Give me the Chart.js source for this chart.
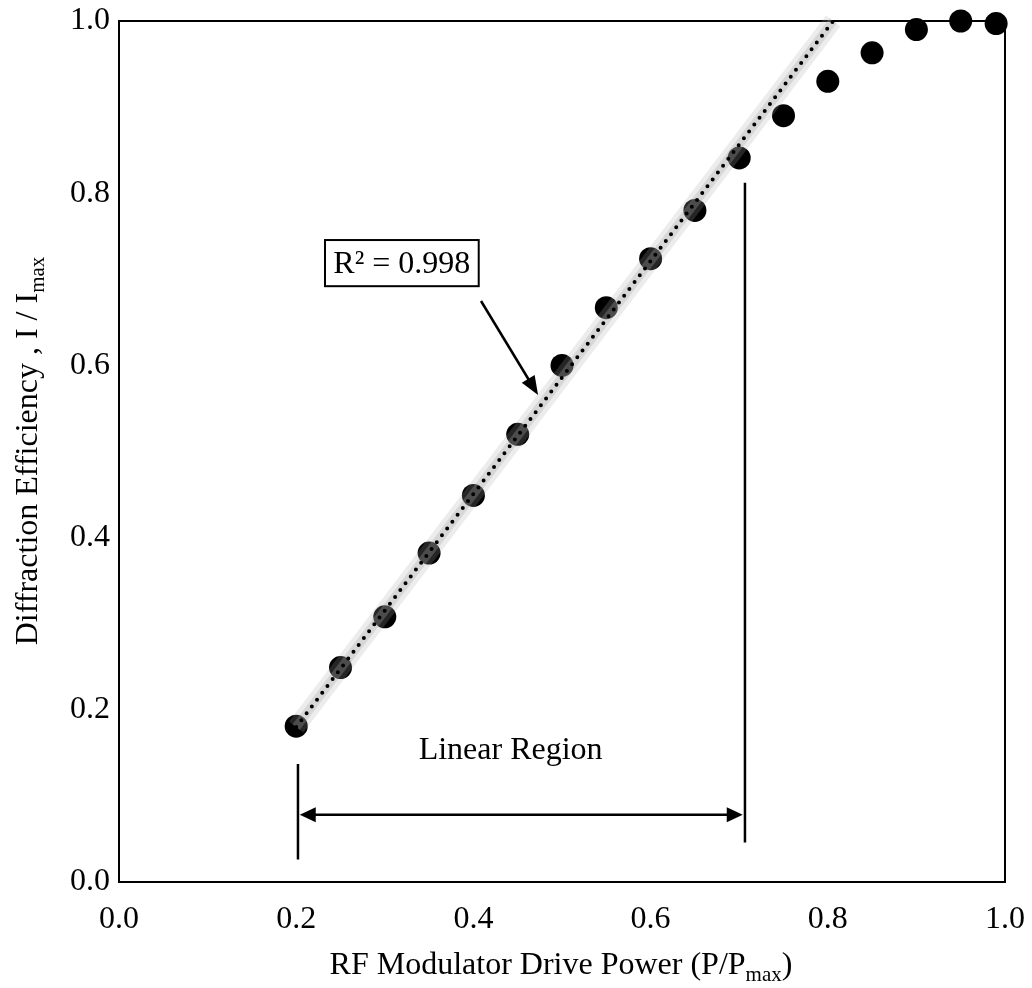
<!DOCTYPE html>
<html>
<head>
<meta charset="utf-8">
<script src="https://cdn.jsdelivr.net/npm/chart.js@4"></script>
<style>
  body { margin: 0; background: #fff; }
  canvas { display: block; }
</style>
</head>
<body>
<canvas id="graph_de" width="1032" height="988"></canvas>
<script>
// measured points
var drivePower = [0.2, 0.25, 0.3, 0.35, 0.4, 0.45, 0.5, 0.55, 0.6, 0.65, 0.7, 0.75, 0.8, 0.85, 0.9, 0.95, 0.99];
var efficiency = [0.181, 0.249, 0.308, 0.382, 0.449, 0.520, 0.600, 0.667, 0.724, 0.780, 0.841, 0.890, 0.930, 0.963, 0.990, 1.000, 0.997];
// linear trend line end points
var trendX = [0.2, 0.806];
var trendY = [0.18, 1.0];
var xTicks = [0.0, 0.2, 0.4, 0.6, 0.8, 1.0];
var yTicks = [0.0, 0.2, 0.4, 0.6, 0.8, 1.0];
var fitLabel = 'R² = 0.998';
var regionLabel = 'Linear Region';

var FONT = '"Liberation Serif", "Times New Roman", serif';

function pairs(xs, ys) {
    return xs.map(function (x, i) { return { x: x, y: ys[i] }; });
}

function arrowHead(c, x1, y1, x2, y2, len, wid) {
    var a = Math.atan2(y2 - y1, x2 - x1);
    c.beginPath();
    c.moveTo(x2, y2);
    c.lineTo(x2 - len * Math.cos(a) + wid / 2 * Math.sin(a), y2 - len * Math.sin(a) - wid / 2 * Math.cos(a));
    c.lineTo(x2 - len * Math.cos(a) - wid / 2 * Math.sin(a), y2 - len * Math.sin(a) + wid / 2 * Math.cos(a));
    c.closePath();
    c.fill();
}

// text with a subscript part, e.g. I / I_max
function subText(c, parts, x, y, align) {
    c.textBaseline = 'alphabetic';
    c.textAlign = 'left';
    var big = '32px ' + FONT, small = '21px ' + FONT;
    var w = 0;
    parts.forEach(function (p) { c.font = p.sub ? small : big; w += c.measureText(p.t).width; });
    var cx = align === 'center' ? x - w / 2 : x;
    parts.forEach(function (p) {
        c.font = p.sub ? small : big;
        c.fillText(p.t, cx, y + (p.sub ? 7 : 0));
        cx += c.measureText(p.t).width;
    });
}

// no extra room for overhanging tick labels, layout padding decides
function noPad(scale) {
    scale.paddingLeft = 0;
    scale.paddingRight = 0;
    scale.paddingTop = 0;
    scale.paddingBottom = 0;
}

var frame = {
    id: 'frame',
    beforeDatasetsDraw: function (chart) {
        var a = chart.chartArea, c = chart.ctx;
        c.save();
        c.strokeStyle = '#000';
        c.lineWidth = 2;
        c.strokeRect(a.left, a.top, a.right - a.left, a.bottom - a.top);
        c.restore();
    }
};

var notes = {
    id: 'notes',
    afterDatasetsDraw: function (chart) {
        var c = chart.ctx, sx = chart.scales.x, sy = chart.scales.y;
        var X = function (v) { return sx.getPixelForValue(v); };
        var Y = function (v) { return sy.getPixelForValue(v); };
        c.save();
        c.strokeStyle = '#000';
        c.fillStyle = '#000';
        c.lineWidth = 2.5;
        // region markers
        c.beginPath();
        c.moveTo(X(0.202), Y(0.026)); c.lineTo(X(0.202), Y(0.137));
        c.moveTo(X(0.7065), Y(0.046)); c.lineTo(X(0.7065), Y(0.812));
        c.stroke();
        // double arrow
        var ay = Y(0.078), ax1 = X(0.204), ax2 = X(0.704);
        c.beginPath();
        c.moveTo(ax1 + 10, ay); c.lineTo(ax2 - 10, ay);
        c.stroke();
        arrowHead(c, ax2, ay, ax1, ay, 16, 15);
        arrowHead(c, ax1, ay, ax2, ay, 16, 15);
        // R² box
        var bl = X(0.2325), br = X(0.406), bt = Y(0.7456), bb = Y(0.692);
        c.lineWidth = 2;
        c.strokeRect(bl, bt, br - bl, bb - bt);
        c.font = '32px ' + FONT;
        c.textAlign = 'center';
        c.textBaseline = 'middle';
        c.fillText(fitLabel, (bl + br) / 2, (bt + bb) / 2 + 1);
        // pointer arrow
        var p1x = X(0.4086), p1y = Y(0.6748), p2x = X(0.473), p2y = Y(0.5656);
        c.lineWidth = 2.5;
        c.beginPath();
        c.moveTo(p1x, p1y);
        c.lineTo(p2x - (p2x - p1x) * 0.12, p2y - (p2y - p1y) * 0.12);
        c.stroke();
        arrowHead(c, p1x, p1y, p2x, p2y, 19, 15);
        c.fillText(regionLabel, X(0.442), Y(0.153));
        c.restore();
    },
    afterDraw: function (chart) {
        var c = chart.ctx;
        c.save();
        c.fillStyle = '#000';
        subText(c, [{ t: 'RF Modulator Drive Power (P/P' }, { t: 'max', sub: true }, { t: ')' }], 561, 974, 'center');
        c.translate(37, 451);
        c.rotate(-Math.PI / 2);
        subText(c, [{ t: 'Diffraction Efficiency , I / I' }, { t: 'max', sub: true }], 0, 0, 'center');
        c.restore();
    }
};

var ctx = document.getElementById('graph_de');

var myChart_de = new Chart(ctx, {
    type: 'scatter',
    data: {
        datasets: [{
            // dotted trend line
            data: pairs(trendX, trendY),
            showLine: true,
            borderColor: '#000',
            borderWidth: 4,
            borderDash: [0, 8.6],
            borderCapStyle: 'round',
            pointRadius: 0,
            clip: false,
            order: 1
        }, {
            // soft gray glow under the dots
            data: pairs(trendX, trendY),
            showLine: true,
            borderColor: 'rgba(170,170,170,0.22)',
            borderWidth: 18,
            pointRadius: 0,
            clip: false,
            order: 2
        }, {
            data: pairs(trendX, trendY),
            showLine: true,
            borderColor: 'rgba(170,170,170,0.30)',
            borderWidth: 9,
            pointRadius: 0,
            clip: false,
            order: 2
        }, {
            data: pairs(drivePower, efficiency),
            pointRadius: 11.5,
            pointHoverRadius: 11.5,
            pointBackgroundColor: '#000',
            pointBorderWidth: 0,
            clip: false,
            order: 3
        }]
    },
    plugins: [frame, notes],
    options: {
        responsive: false,
        animation: false,
        events: [],
        layout: {
            padding: { left: 0, right: 27, top: 21, bottom: 0 }
        },
        plugins: {
            legend: { display: false },
            tooltip: { enabled: false }
        },
        scales: {
            x: {
                type: 'linear',
                min: 0,
                max: 1,
                grid: { display: false, drawTicks: false },
                border: { display: false },
                afterFit: function (scale) { scale.height = 106; noPad(scale); },
                afterBuildTicks: function (scale) { scale.ticks = xTicks.map(function (v) { return { value: v }; }); },
                ticks: {
                    padding: 18,
                    color: '#000',
                    font: { family: FONT, size: 32 },
                    callback: function (v) { return Number(v).toFixed(1); }
                }
            },
            y: {
                type: 'linear',
                min: 0,
                max: 1,
                grid: { display: false, drawTicks: false },
                border: { display: false },
                afterFit: function (scale) { scale.width = 119; noPad(scale); },
                afterBuildTicks: function (scale) { scale.ticks = yTicks.map(function (v) { return { value: v }; }); },
                ticks: {
                    padding: 9,
                    color: '#000',
                    font: { family: FONT, size: 32 },
                    callback: function (v) { return Number(v).toFixed(1); }
                }
            }
        }
    }
});
</script>
</body>
</html>
